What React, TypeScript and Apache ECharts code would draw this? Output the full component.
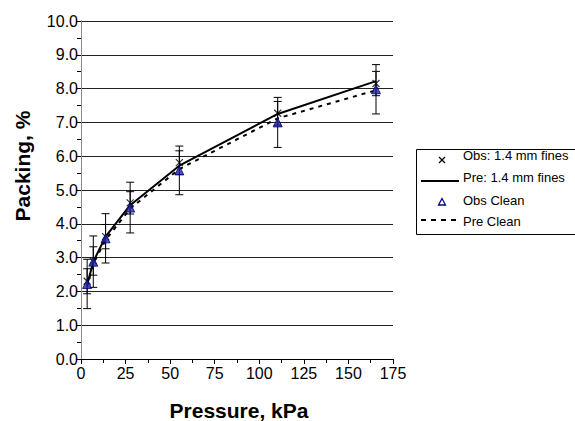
import React, { useEffect, useRef } from "react";
import * as echarts from "echarts";

const pressures = [3.45, 6.89, 13.79, 27.58, 55.16, 110.32, 165.47];
const obsFines = [2.3, 2.9, 3.62, 4.62, 5.81, 7.27, 8.15];
const obsFinesErr = [0.37, 0.42, 0.36, 0.33, 0.35, 0.35, 0.36];
const obsClean = [2.22, 2.88, 3.57, 4.48, 5.58, 7.0, 7.98];
const obsCleanErr = [0.73, 0.76, 0.73, 0.75, 0.72, 0.74, 0.73];
const preFines = [2.2, 2.88, 3.62, 4.55, 5.72, 7.25, 8.22];
const preClean = [2.15, 2.82, 3.52, 4.45, 5.62, 7.12, 7.95];
const legendLabels = ["Obs: 1.4 mm fines", "Pre: 1.4 mm fines", "Obs Clean", "Pre Clean"];
const xTitle = "Pressure, kPa";
const yTitle = "Packing, %";

const FONT = "'Liberation Sans', Arial, sans-serif";

function errRender(params: any, api: any) {
  const x = api.value(0);
  const y = api.value(1);
  const e = api.value(2);
  const top = api.coord([x, y + e]);
  const bot = api.coord([x, y - e]);
  const hw = 4;
  const style = { stroke: "#000", lineWidth: 1 };
  return {
    type: "group",
    children: [
      { type: "line", shape: { x1: top[0], y1: top[1], x2: bot[0], y2: bot[1] }, style },
      { type: "line", shape: { x1: top[0] - hw, y1: top[1], x2: top[0] + hw, y2: top[1] }, style },
      { type: "line", shape: { x1: bot[0] - hw, y1: bot[1], x2: bot[0] + hw, y2: bot[1] }, style },
    ],
  };
}

export default function App() {
  const ref = useRef<HTMLDivElement>(null);
  useEffect(() => {
    document.body.style.margin = "0";
    const chart = echarts.init(ref.current!, null, { renderer: "svg" });
    const lx = 416.5;
    const ly = 149.5;
    const textX = 463;
    const rows = [155, 177.5, 200, 221];
    chart.setOption({
      animation: false,
      backgroundColor: "#fff",
      grid: { left: 81, right: 182, top: 21, bottom: 62, containLabel: false },
      xAxis: {
        type: "value",
        min: 0,
        max: 175,
        interval: 25,
        axisLine: { show: true, onZero: false, lineStyle: { color: "#000", width: 1 } },
        axisTick: { show: true, inside: false, length: 5, lineStyle: { color: "#000" } },
        minorTick: { show: true, splitNumber: 2, length: 4, lineStyle: { color: "#000" } },
        axisLabel: { color: "#000", fontSize: 16, fontFamily: FONT, margin: 6 },
        splitLine: { show: false },
      },
      yAxis: [
        {
          type: "value",
          min: 0,
          max: 10,
          interval: 1,
          axisLine: { show: true, onZero: false, lineStyle: { color: "#000", width: 1 } },
          axisTick: { show: true, inside: false, length: 5, lineStyle: { color: "#000" } },
          minorTick: { show: true, splitNumber: 2, length: 4, lineStyle: { color: "#000" } },
          axisLabel: {
            color: "#000",
            fontSize: 16,
            fontFamily: FONT,
            margin: 3,
            formatter: (v: number) => v.toFixed(1),
          },
          splitLine: { show: true, lineStyle: { color: "#222", width: 1 } },
        },
        {
          type: "value",
          position: "right",
          min: 0,
          max: 10,
          interval: 1,
          axisLine: { show: true, lineStyle: { color: "#888", width: 1 } },
          axisTick: { show: false },
          axisLabel: { show: false },
          splitLine: { show: false },
        },
      ],
      series: [
        {
          type: "custom",
          name: "errClean",
          renderItem: errRender,
          encode: { x: 0, y: 1 },
          data: pressures.map((p, i) => [p, obsClean[i], obsCleanErr[i]]),
          z: 1,
        },
        {
          type: "custom",
          name: "errFines",
          renderItem: errRender,
          encode: { x: 0, y: 1 },
          data: pressures.map((p, i) => [p, obsFines[i], obsFinesErr[i]]),
          z: 1,
        },
        {
          type: "line",
          name: legendLabels[1],
          data: pressures.map((p, i) => [p, preFines[i]]),
          symbol: "none",
          smooth: false,
          lineStyle: { color: "#000", width: 2 },
          z: 2,
        },
        {
          type: "line",
          name: legendLabels[3],
          data: pressures.map((p, i) => [p, preClean[i]]),
          symbol: "none",
          smooth: false,
          lineStyle: { color: "#000", width: 2, type: [4, 5] },
          z: 2,
        },
        {
          type: "scatter",
          name: legendLabels[0],
          data: pressures.map((p, i) => [p, obsFines[i]]),
          symbol: "path://M0,0L10,10M10,0L0,10",
          symbolSize: 7,
          itemStyle: { color: "transparent", borderColor: "#000", borderWidth: 1.2 },
          z: 3,
        },
        {
          type: "scatter",
          name: legendLabels[2],
          data: pressures.map((p, i) => [p, obsClean[i]]),
          symbol: "triangle",
          symbolSize: 9,
          itemStyle: { color: "#2424a8", borderColor: "#000070", borderWidth: 1 },
          z: 4,
        },
      ],
      graphic: [
        {
          type: "text",
          x: 239,
          y: 410,
          style: {
            text: xTitle,
            font: `bold 21px ${FONT}`,
            fill: "#000",
            textAlign: "center",
            textVerticalAlign: "middle",
          },
        },
        {
          type: "text",
          x: 22,
          y: 166,
          rotation: Math.PI / 2,
          style: {
            text: yTitle,
            font: `bold 21px ${FONT}`,
            fill: "#000",
            textAlign: "center",
            textVerticalAlign: "middle",
          },
        },
        {
          type: "rect",
          shape: { x: lx, y: ly, width: 170, height: 85 },
          style: { fill: "#fff", stroke: "#000", lineWidth: 1 },
        },
        ...legendLabels.map((t, i) => ({
          type: "text",
          x: textX,
          y: rows[i],
          style: {
            text: t,
            font: `13px ${FONT}`,
            fill: "#000",
            textAlign: "left",
            textVerticalAlign: "middle",
          },
        })),
        {
          type: "line",
          shape: { x1: 439, y1: 157, x2: 445, y2: 163 },
          style: { stroke: "#000", lineWidth: 1.2 },
        },
        {
          type: "line",
          shape: { x1: 445, y1: 157, x2: 439, y2: 163 },
          style: { stroke: "#000", lineWidth: 1.2 },
        },
        {
          type: "line",
          shape: { x1: 421, y1: 181, x2: 459, y2: 181 },
          style: { stroke: "#000", lineWidth: 2 },
        },
        {
          type: "polygon",
          shape: { points: [[442, 198.5], [438.5, 205], [445.5, 205]] },
          style: { fill: "#fff", stroke: "#000080", lineWidth: 1.3 },
        },
        {
          type: "line",
          shape: { x1: 421, y1: 220, x2: 459, y2: 220 },
          style: { stroke: "#000", lineWidth: 2, lineDash: [5, 5] },
        },
      ],
    });
    return () => chart.dispose();
  }, []);
  return <div ref={ref} style={{ width: 575, height: 421 }} />;
}
